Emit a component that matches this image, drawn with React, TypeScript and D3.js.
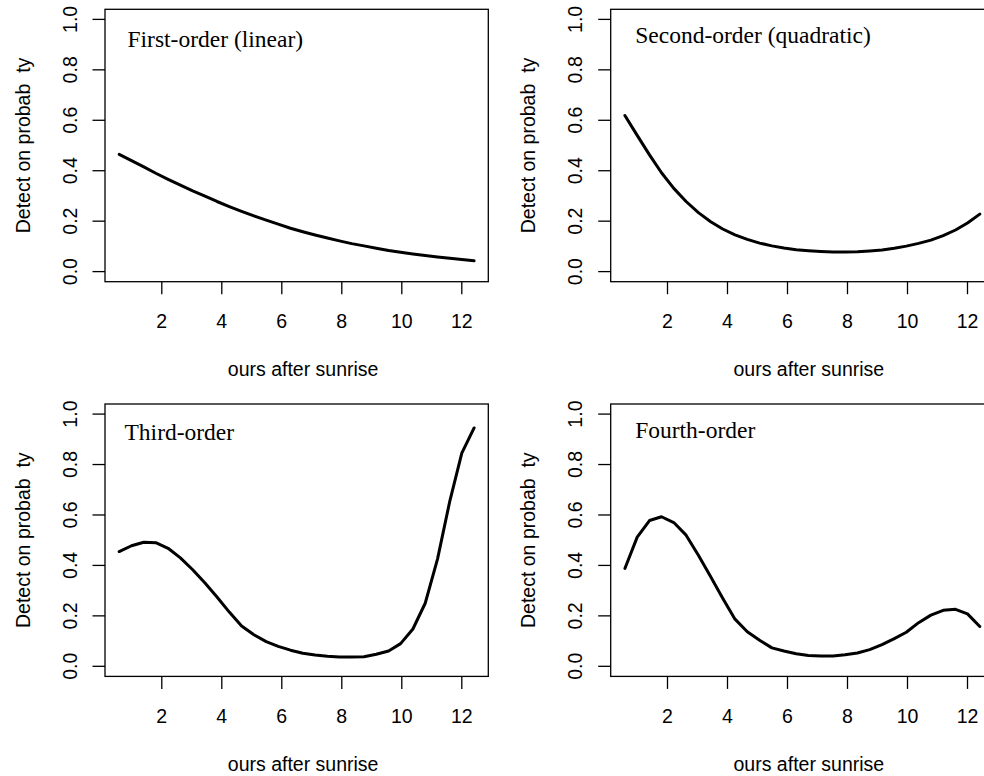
import React, { useEffect, useRef } from "react";
import * as d3 from "d3";

// survey hours after sunrise (shared by all four fits)
const hours = [0.58, 0.99, 1.40, 1.80, 2.21, 2.62, 3.03, 3.44, 3.84, 4.25, 4.66, 5.07, 5.48, 5.88, 6.29,
  6.70, 7.11, 7.52, 7.92, 8.33, 8.74, 9.15, 9.56, 9.96, 10.37, 10.78, 11.19, 11.60, 12.00, 12.41];

const firstOrder = [0.465, 0.440, 0.415, 0.390, 0.366, 0.343, 0.320, 0.299, 0.278, 0.258, 0.239, 0.221,
  0.204, 0.188, 0.172, 0.158, 0.145, 0.133, 0.122, 0.111, 0.102, 0.093, 0.084, 0.077, 0.070, 0.064,
  0.058, 0.053, 0.048, 0.043];

const secondOrder = [0.619, 0.540, 0.463, 0.392, 0.330, 0.278, 0.234, 0.198, 0.169, 0.146, 0.128, 0.113,
  0.102, 0.094, 0.087, 0.083, 0.080, 0.078, 0.078, 0.079, 0.082, 0.086, 0.093, 0.101, 0.112, 0.125,
  0.143, 0.165, 0.193, 0.228];

const thirdOrder = [0.455, 0.478, 0.492, 0.490, 0.468, 0.430, 0.383, 0.330, 0.275, 0.215, 0.160, 0.125,
  0.098, 0.079, 0.064, 0.052, 0.045, 0.040, 0.037, 0.037, 0.038, 0.048, 0.061, 0.090, 0.148, 0.250,
  0.425, 0.655, 0.845, 0.945];

const fourthOrder = [0.388, 0.512, 0.578, 0.593, 0.570, 0.520, 0.440, 0.355, 0.270, 0.187, 0.137, 0.103,
  0.073, 0.061, 0.050, 0.043, 0.041, 0.041, 0.046, 0.053, 0.066, 0.086, 0.110, 0.135, 0.173, 0.203,
  0.222, 0.226, 0.208, 0.158];

const panelTitles = ["First-order (linear)", "Second-order (quadratic)", "Third-order", "Fourth-order"];
const xTicks = [2, 4, 6, 8, 10, 12];
const yTicks = [0, 0.2, 0.4, 0.6, 0.8, 1.0];
const xLabel = "ours after sunrise";
const yLabel = "Detect on probab  ty";

// layout (pixels)
const W = 984, H = 776;
const colStep = 505.7, rowStep = 394.7;
const box = { left: 105, top: 9.3, w: 383.3, h: 272.4 };
const titlePos = [[22.5, 37.4], [24.5, 33.5], [19.5, 35.7], [24.5, 34]];
const sans = "'Liberation Sans', Arial, sans-serif";
const serif = "'Liberation Serif', 'Times New Roman', serif";
const fs = 19.5;

export default function App() {
  const ref = useRef<SVGSVGElement | null>(null);

  useEffect(() => {
    const svg = d3.select(ref.current);
    svg.selectAll("*").remove();

    // R style 4% padding on x
    const [x0, x1] = d3.extent(hours) as [number, number];
    const pad = (x1 - x0) * 0.04;
    const x = d3.scaleLinear().domain([x0 - pad, x1 + pad]).range([0, box.w]);
    const y = d3.scaleLinear().domain([-0.04, 1.04]).range([box.h, 0]);
    const fmt = d3.format(".1f");

    const series = [firstOrder, secondOrder, thirdOrder, fourthOrder];

    const line = d3.line<[number, number]>()
      .x(d => x(d[0]))
      .y(d => y(d[1]));

    series.forEach((vals, i) => {
      const col = i % 2, row = Math.floor(i / 2);
      const g = svg.append("g")
        .attr("transform", `translate(${col * colStep + box.left},${row * rowStep + box.top})`);

      g.append("rect")
        .attr("width", box.w).attr("height", box.h)
        .attr("fill", "none").attr("stroke", "#000").attr("stroke-width", 1.3);

      // x axis
      const xa = g.append("g").attr("transform", `translate(0,${box.h})`);
      xa.selectAll("line").data(xTicks).join("line")
        .attr("x1", d => x(d)).attr("x2", d => x(d))
        .attr("y1", 0).attr("y2", 12.5)
        .attr("stroke", "#000").attr("stroke-width", 1.3);
      xa.selectAll("text").data(xTicks).join("text")
        .attr("x", d => x(d)).attr("y", 46.3)
        .attr("text-anchor", "middle")
        .attr("font-family", sans).attr("font-size", fs)
        .text(d => d);

      // y axis
      const ya = g.append("g");
      ya.selectAll("line").data(yTicks).join("line")
        .attr("x1", -12.5).attr("x2", 0)
        .attr("y1", d => y(d)).attr("y2", d => y(d))
        .attr("stroke", "#000").attr("stroke-width", 1.3);
      ya.selectAll("text").data(yTicks).join("text")
        .attr("transform", d => `translate(-28.3,${y(d)}) rotate(-90)`)
        .attr("text-anchor", "middle")
        .attr("font-family", sans).attr("font-size", fs)
        .text(d => fmt(d));

      // axis titles
      g.append("text")
        .attr("x", box.w / 2 + 6.5).attr("y", box.h + 94.3)
        .attr("text-anchor", "middle")
        .attr("font-family", sans).attr("font-size", fs)
        .text(xLabel);
      g.append("text")
        .attr("transform", `translate(${29.5 - box.left},${box.h / 2}) rotate(-90)`)
        .attr("text-anchor", "middle")
        .attr("font-family", sans).attr("font-size", fs)
        .style("white-space", "pre")
        .text(yLabel);

      // fitted curve
      g.append("path")
        .datum(hours.map((h, k) => [h, vals[k]] as [number, number]))
        .attr("d", line)
        .attr("fill", "none").attr("stroke", "#000")
        .attr("stroke-width", 3)
        .attr("stroke-linejoin", "round").attr("stroke-linecap", "round");

      g.append("text")
        .attr("x", titlePos[i][0]).attr("y", titlePos[i][1])
        .attr("font-family", serif).attr("font-size", 23.5)
        .text(panelTitles[i]);
    });
  }, []);

  return (
    <svg ref={ref} width={W} height={H}
      style={{ position: "absolute", left: 0, top: 0, background: "#fff" }} />
  );
}
